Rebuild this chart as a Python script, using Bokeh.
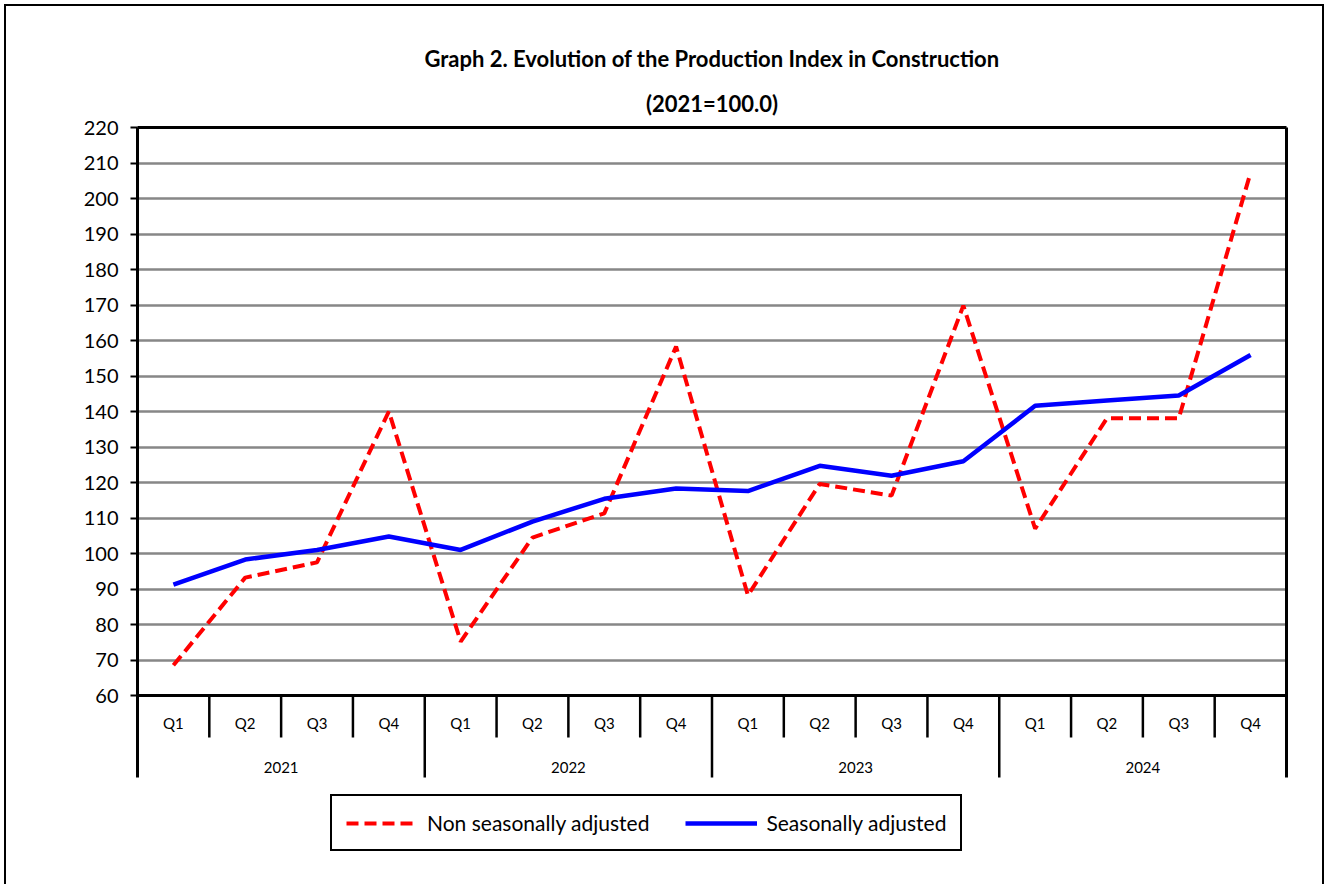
import numpy as np
from bokeh.plotting import figure
from bokeh.models import (Range1d, LinearAxis, FixedTicker, Span, Legend, LegendItem,
                          Grid, Title)
from bokeh.embed import file_html
from bokeh.resources import INLINE
from bokeh.core.properties import value

# ---------------- data ----------------
years = ["2021", "2022", "2023", "2024"]
quarters = ["Q1", "Q2", "Q3", "Q4"]
non_seasonally_adjusted = [68.5, 93.2, 97.5, 140.0,
                           75.2, 104.5, 111.3, 158.3,
                           88.2, 119.6, 116.3, 169.8,
                           107.0, 138.1, 138.1, 207.3]
seasonally_adjusted = [91.2, 98.3, 101.0, 104.8,
                       101.0, 109.0, 115.4, 118.3,
                       117.6, 124.7, 121.9, 126.0,
                       141.6, 143.1, 144.5, 155.9]
y_ticks = list(range(60, 221, 10))
title_main = "Graph 2. Evolution of the Production Index in Construction"
title_sub = "(2021=100.0)"
series_labels = ["Non seasonally adjusted", "Seasonally adjusted"]

FONT = "Lato"

# ---------------- layout (canvas pixels) ----------------
W, H = 1320, 880
OFF = 6                      # canvas origin on page (margin + border)
frame_top_px = 127 - OFF     # 220 line
y60_px = 695 - OFF           # 60 line (x axis)
frame_bottom_px = H - 6
px_per_unit = (y60_px - frame_top_px) / (220 - 60)

def px_to_val(px):
    return 60 - (px - y60_px) / px_per_unit

y_lo = px_to_val(frame_bottom_px)
q_sep_end = px_to_val(y60_px + 42)
y_sep_end = px_to_val(y60_px + 82)
q_lab_y = px_to_val(y60_px + 27)
y_lab_y = px_to_val(y60_px + 72)

n = len(years) * len(quarters)
x = np.arange(n) + 0.5

p = figure(width=W, height=H, output_backend="svg", toolbar_location=None,
           x_range=Range1d(0, n), y_range=Range1d(y_lo, 220),
           x_axis_type=None, y_axis_type=None,
           min_border_left=137 - OFF, min_border_right=W - (1286 - OFF),
           min_border_top=frame_top_px, min_border_bottom=H - frame_bottom_px,
           outline_line_color=None, background_fill_color="white",
           border_fill_color="white")
p.styles = {"border-left": "2px solid black", "border-top": "2px solid black",
            "border-right": "2px solid black", "margin-left": "4px", "margin-top": "4px"}

# titles
p.title.text = ""
p.title.visible = False

# grid
grid = Grid(dimension=1, ticker=FixedTicker(ticks=y_ticks[1:-1]),
            grid_line_color="#878787", grid_line_width=2.5)
p.add_layout(grid)

# left axis
yaxis = LinearAxis(ticker=FixedTicker(ticks=y_ticks), bounds=(y_sep_end, 220),
                   axis_line_width=3, axis_line_color="black",
                   major_tick_line_width=2, major_tick_out=7, major_tick_in=0,
                   minor_tick_line_color=None,
                   major_label_text_font=FONT, major_label_text_font_size="20px",
                   major_label_standoff=12, major_label_text_color="black")
p.add_layout(yaxis, "left")

# right and top borders of plot area
raxis = LinearAxis(ticker=FixedTicker(ticks=[]), bounds=(y_sep_end, 220),
                   axis_line_width=3, major_tick_line_color=None, minor_tick_line_color=None,
                   major_label_text_font_size="0px")
p.add_layout(raxis, "right")
taxis = LinearAxis(ticker=FixedTicker(ticks=[]), axis_line_width=3,
                   major_tick_line_color=None, minor_tick_line_color=None,
                   major_label_text_font_size="0px")
p.add_layout(taxis, "above")

p.add_layout(Title(text=title_sub, align="center", text_font=FONT, text_font_size="22px",
                   text_font_style="bold", text_color="black", standoff=21), "above")
p.add_layout(Title(text=title_main, align="center", text_font=FONT, text_font_size="22px",
                   text_font_style="bold", text_color="black", standoff=12), "above")

# x axis line
p.add_layout(Span(location=60, dimension="width", line_color="black", line_width=3))

# category separators
q_sep = [i for i in range(1, n) if i % 4 != 0]
y_sep = [i for i in range(1, n) if i % 4 == 0]
p.segment(x0=q_sep, x1=q_sep, y0=[60] * len(q_sep), y1=[q_sep_end] * len(q_sep),
          line_color="black", line_width=2.5)
p.segment(x0=y_sep, x1=y_sep, y0=[60] * len(y_sep), y1=[y_sep_end] * len(y_sep),
          line_color="black", line_width=2.5)

# category labels
q_labels = [q for _ in years for q in quarters]
p.text(x=list(x), y=[q_lab_y] * n, text=q_labels, text_align="center", text_baseline="middle",
       text_font=value(FONT), text_font_size="15px", text_color="black")
yx = [4 * i + 2 for i in range(len(years))]
p.text(x=yx, y=[y_lab_y] * len(years), text=years, text_align="center", text_baseline="middle",
       text_font=value(FONT), text_font_size="15px", text_color="black")

# series
r_nsa = p.line(x, non_seasonally_adjusted, line_color="#FF0000", line_width=4,
               line_dash="12 6")
r_sa = p.line(x, seasonally_adjusted, line_color="#0000FF", line_width=4.5)

legend = Legend(items=[LegendItem(label=series_labels[0], renderers=[r_nsa]),
                       LegendItem(label=series_labels[1], renderers=[r_sa])],
                orientation="horizontal",
                location=(330 - 137, (frame_bottom_px + OFF) - 851),
                border_line_color="black", border_line_width=2, border_line_alpha=1,
                glyph_width=72, glyph_height=20, label_standoff=9, spacing=36,
                padding=14, margin=0,
                label_text_font=FONT, label_text_font_size="21px", label_text_color="black",
                background_fill_color="white", background_fill_alpha=1)
p.add_layout(legend)

open("out.html", "w").write(file_html(p, INLINE))
